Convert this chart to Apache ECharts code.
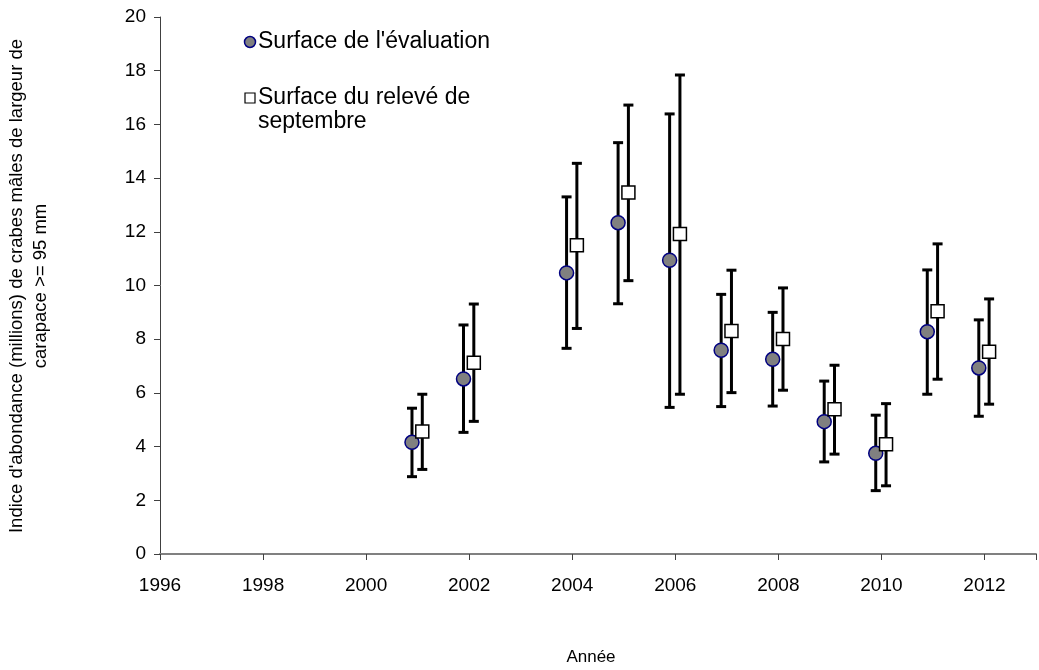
<!DOCTYPE html>
<html>
<head>
<meta charset="utf-8">
<script src="https://cdn.jsdelivr.net/npm/echarts@6/dist/echarts.min.js"></script>
<style>
  html, body { margin: 0; padding: 0; background: #ffffff; }
  #chart { width: 1039px; height: 670px; }
</style>
</head>
<body>
<div id="chart"></div>
<script>
// Survey years
const years = [2001, 2002, 2004, 2005, 2006, 2007, 2008, 2009, 2010, 2011, 2012];

// Abundance index (millions) over the assessment area, with confidence limits
const evalValues = [4.16, 6.52, 10.47, 12.34, 10.94, 7.59, 7.25, 4.93, 3.75, 8.28, 6.93];
const evalLow    = [2.88, 4.53, 7.66, 9.32, 5.46, 5.49, 5.51, 3.43, 2.36, 5.95, 5.13];
const evalHigh   = [5.43, 8.53, 13.30, 15.32, 16.39, 9.67, 9.00, 6.44, 5.17, 10.58, 8.72];

// Abundance index (millions) over the September survey area, with confidence limits
const septValues = [4.56, 7.12, 11.50, 13.46, 11.92, 8.31, 8.01, 5.39, 4.09, 9.04, 7.53];
const septLow    = [3.15, 4.94, 8.40, 10.18, 5.95, 6.01, 6.10, 3.72, 2.54, 6.51, 5.58];
const septHigh   = [5.95, 9.31, 14.55, 16.72, 17.84, 10.57, 9.91, 7.03, 5.60, 11.55, 9.50];

// Axis ticks
const xTicks = [1996, 1998, 2000, 2002, 2004, 2006, 2008, 2010, 2012];
const yTicks = [0, 2, 4, 6, 8, 10, 12, 14, 16, 18, 20];

const seriesNames = ["Surface de l'évaluation", "Surface du relevé de\nseptembre"];
const yTitle = "Indice d'abondance (millions) de crabes mâles de largeur de\ncarapace >= 95 mm";
const xTitle = "Année";

// The two series sit side by side around each year
const EVAL_SHIFT = -0.11;
const SEPT_SHIFT = 0.09;

const FONT = "'Liberation Sans', Arial, sans-serif";

const evalPts = years.map((y, i) => [y + EVAL_SHIFT, evalValues[i]]);
const septPts = years.map((y, i) => [y + SEPT_SHIFT, septValues[i]]);
const evalBars = years.map((y, i) => [y + EVAL_SHIFT, evalLow[i], evalHigh[i]]);
const septBars = years.map((y, i) => [y + SEPT_SHIFT, septLow[i], septHigh[i]]);

// Vertical whisker with a short cap at each end
function errorBar(params, api) {
  const x = api.value(0);
  const lo = api.coord([x, api.value(1)]);
  const hi = api.coord([x, api.value(2)]);
  const cap = 5;
  const style = { stroke: '#000000', lineWidth: 3 };
  return {
    type: 'group',
    children: [
      { type: 'line', shape: { x1: lo[0], y1: lo[1], x2: hi[0], y2: hi[1] }, style },
      { type: 'line', shape: { x1: lo[0] - cap, y1: lo[1], x2: lo[0] + cap, y2: lo[1] }, style },
      { type: 'line', shape: { x1: hi[0] - cap, y1: hi[1], x2: hi[0] + cap, y2: hi[1] }, style }
    ]
  };
}

const chart = echarts.init(document.getElementById('chart'), null, { renderer: 'canvas' });

chart.setOption({
  backgroundColor: '#ffffff',
  animation: false,
  grid: { left: 160, top: 17, width: 886, height: 537, containLabel: false },
  xAxis: {
    type: 'value',
    min: xTicks[0],
    max: 2013,
    interval: 2,
    splitLine: { show: false },
    axisLine: { show: true, lineStyle: { color: '#808080', width: 2 } },
    axisTick: { show: true, inside: false, length: 6, lineStyle: { color: '#404040', width: 1 } },
    axisLabel: {
      margin: 22,
      fontSize: 19,
      fontFamily: FONT,
      color: '#000000',
      formatter: v => (xTicks.indexOf(v) >= 0 ? String(v) : '')
    }
  },
  yAxis: {
    type: 'value',
    min: yTicks[0],
    max: yTicks[yTicks.length - 1],
    interval: 2,
    splitLine: { show: false },
    axisLine: { show: true, lineStyle: { color: '#404040', width: 1 } },
    axisTick: { show: true, inside: false, length: 6, lineStyle: { color: '#404040', width: 1 } },
    axisLabel: {
      margin: 14,
      fontSize: 19,
      fontFamily: FONT,
      color: '#000000'
    }
  },
  graphic: [
    // Y axis title
    {
      type: 'text',
      x: 29, y: 286,
      rotation: Math.PI / 2,
      style: {
        text: yTitle,
        fontSize: 18.5,
        fontFamily: FONT,
        fill: '#000000',
        align: 'center',
        verticalAlign: 'middle',
        lineHeight: 24
      }
    },
    // X axis title
    {
      type: 'text',
      x: 591, y: 657,
      style: {
        text: xTitle,
        fontSize: 17, fontFamily: FONT, fill: '#000000',
        align: 'center', verticalAlign: 'middle'
      }
    },
    // Legend
    {
      type: 'circle',
      shape: { cx: 250, cy: 42, r: 5.5 },
      style: { fill: '#808080', stroke: '#000080', lineWidth: 1.5 }
    },
    {
      type: 'text',
      x: 258, y: 42,
      style: {
        text: seriesNames[0],
        fontSize: 23, fontFamily: FONT, fill: '#000000',
        align: 'left', verticalAlign: 'middle'
      }
    },
    {
      type: 'rect',
      shape: { x: 245, y: 93, width: 10, height: 10 },
      style: { fill: '#ffffff', stroke: '#000000', lineWidth: 1.2 }
    },
    {
      type: 'text',
      x: 258, y: 86,
      style: {
        text: seriesNames[1],
        fontSize: 23, fontFamily: FONT, fill: '#000000',
        align: 'left', verticalAlign: 'top',
        lineHeight: 24
      }
    }
  ],
  series: [
    {
      type: 'custom',
      name: 'evalErr',
      renderItem: errorBar,
      data: evalBars,
      encode: { x: 0, y: [1, 2] },
      z: 1
    },
    {
      type: 'custom',
      name: 'septErr',
      renderItem: errorBar,
      data: septBars,
      encode: { x: 0, y: [1, 2] },
      z: 1
    },
    {
      type: 'scatter',
      name: seriesNames[0],
      data: evalPts,
      symbol: 'circle',
      symbolSize: 14,
      itemStyle: { color: '#808080', borderColor: '#000080', borderWidth: 1.5, opacity: 1 },
      z: 3
    },
    {
      type: 'scatter',
      name: seriesNames[1],
      data: septPts,
      symbol: 'rect',
      symbolSize: 13,
      itemStyle: { color: '#ffffff', borderColor: '#000000', borderWidth: 1.5, opacity: 1 },
      z: 3
    }
  ]
});
</script>
</body>
</html>
